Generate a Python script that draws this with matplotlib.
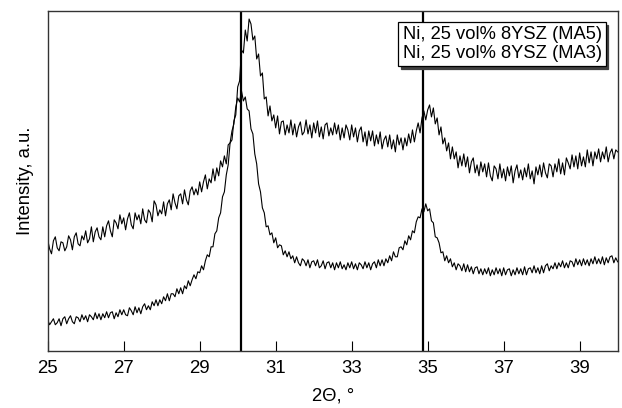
import numpy as np
import matplotlib.pyplot as plt
from matplotlib.lines import Line2D

# 2-theta grid, 0.05 deg steps from 25 to 40
two_theta = np.arange(500, 801) / 20

# Ni, 25 vol% 8YSZ (MA5) - upper pattern
ma5 = [
    111, 102, 97, 110, 114, 103, 100, 109, 108, 100,
    104, 115, 111, 101, 114, 118, 107, 105, 115, 111,
    120, 108, 112, 124, 109, 119, 123, 114, 111, 124,
    114, 125, 130, 120, 114, 131, 128, 122, 136, 127,
    133, 121, 132, 138, 126, 122, 138, 131, 136, 127,
    142, 131, 128, 141, 138, 129, 150, 146, 135, 141,
    137, 149, 135, 147, 151, 141, 157, 148, 142, 155,
    157, 147, 161, 151, 146, 160, 164, 156, 162, 156,
    169, 159, 169, 176, 162, 172, 168, 182, 170, 183,
    175, 190, 184, 195, 187, 206, 208, 211, 230, 236,
    264, 270, 301, 298, 321, 310, 332, 327, 311, 315,
    292, 297, 275, 278, 252, 254, 235, 245, 230, 236,
    223, 235, 217, 229, 230, 216, 226, 218, 231, 216,
    227, 214, 224, 229, 216, 219, 231, 217, 226, 213,
    228, 218, 230, 214, 224, 212, 226, 228, 215, 223,
    216, 228, 217, 226, 211, 223, 213, 226, 221, 211,
    226, 214, 223, 209, 220, 224, 209, 219, 205, 220,
    210, 220, 205, 216, 207, 219, 202, 211, 215, 204,
    216, 202, 211, 199, 216, 206, 213, 201, 213, 205,
    217, 208, 221, 209, 220, 228, 218, 233, 240, 231,
    241, 246, 234, 243, 227, 233, 216, 224, 207, 213,
    200, 208, 192, 204, 192, 199, 183, 195, 185, 197,
    184, 194, 178, 189, 193, 178, 186, 175, 189, 179,
    187, 174, 188, 175, 170, 185, 182, 172, 187, 173,
    182, 170, 184, 175, 185, 168, 180, 186, 173, 181,
    171, 183, 174, 187, 172, 180, 167, 184, 176, 186,
    174, 188, 178, 173, 187, 185, 174, 187, 179, 192,
    177, 188, 176, 193, 188, 182, 196, 184, 195, 182,
    198, 185, 194, 184, 201, 188, 199, 185, 199, 192,
    202, 189, 199, 192, 204, 189, 198, 202, 192, 201,
    199,
]

# Ni, 25 vol% 8YSZ (MA3) - lower pattern
ma3 = [
    31, 26, 29, 32, 26, 28, 32, 25, 32, 34,
    27, 32, 35, 29, 27, 34, 33, 29, 36, 31,
    35, 29, 36, 34, 31, 38, 32, 37, 31, 37,
    33, 39, 33, 38, 39, 32, 38, 34, 41, 36,
    41, 36, 35, 43, 40, 36, 44, 38, 43, 37,
    44, 47, 41, 45, 41, 49, 45, 51, 45, 51,
    47, 54, 50, 57, 50, 57, 57, 54, 62, 57,
    63, 57, 65, 62, 70, 65, 71, 76, 72, 79,
    78, 85, 81, 90, 96, 94, 104, 104, 117, 120,
    133, 138, 154, 159, 176, 186, 208, 220, 227, 244,
    253, 249, 260, 250, 254, 242, 240, 222, 217, 197,
    187, 167, 159, 143, 138, 124, 125, 116, 118, 108,
    113, 103, 106, 105, 96, 100, 94, 99, 92, 95,
    88, 94, 88, 85, 92, 90, 85, 91, 83, 89,
    90, 85, 91, 83, 85, 90, 82, 88, 89, 83,
    88, 81, 88, 83, 89, 82, 86, 81, 88, 83,
    89, 82, 87, 81, 88, 86, 82, 89, 83, 88,
    81, 87, 89, 83, 91, 85, 91, 85, 92, 88,
    95, 90, 99, 94, 94, 103, 104, 101, 110, 106,
    115, 111, 120, 118, 129, 134, 133, 142, 139, 147,
    140, 142, 130, 128, 114, 113, 108, 98, 99, 90,
    95, 88, 92, 84, 88, 81, 87, 85, 80, 87,
    79, 86, 79, 84, 77, 83, 84, 77, 82, 76,
    82, 77, 83, 75, 81, 76, 83, 77, 82, 75,
    83, 76, 81, 82, 75, 81, 76, 83, 77, 82,
    76, 84, 76, 82, 83, 78, 85, 78, 83, 77,
    85, 78, 85, 87, 80, 85, 82, 88, 82, 88,
    84, 90, 83, 88, 83, 90, 89, 84, 92, 86,
    91, 85, 92, 86, 91, 85, 92, 87, 94, 87,
    92, 87, 94, 86, 93, 88, 94, 95, 88, 93,
    89,
]

labels = ["Ni, 25 vol% 8YSZ (MA5)", "Ni, 25 vol% 8YSZ (MA3)"]
ref_lines = [30.08, 34.88]
xticks = [25, 27, 29, 31, 33, 35, 37, 39]

plt.rcParams['font.family'] = ['Liberation Sans', 'DejaVu Sans']

fig = plt.figure(figsize=(6.22, 4.08), dpi=100)
ax = fig.add_axes([0.0767, 0.1404, 0.9163, 0.8326])

ax.plot(two_theta, ma5, color='black', lw=0.8)
ax.plot(two_theta, ma3, color='black', lw=0.8)
for xv in ref_lines:
    ax.axvline(xv, color='black', lw=1.6)

ax.set_xlim(25, 40)
ax.set_ylim(0, 340)
ax.set_xticks(xticks)
ax.set_yticks([])
ax.tick_params(axis='x', direction='in', length=7, width=0.8, pad=7)
for t in ax.get_xticklabels():
    t.set_fontfamily(['Liberation Sans Narrow', 'Liberation Sans'])
    t.set_fontsize(13.4)
for s in ax.spines.values():
    s.set_linewidth(1.0)
    s.set_color('#333333')

ax.set_xlabel("2\u0398, \u00b0", fontsize=13.3, labelpad=7)
ax.set_ylabel("Intensity, a.u.", fontsize=13.3, labelpad=10)

dummy = [Line2D([], [], alpha=0) for _ in labels]
leg = ax.legend(dummy, labels, loc='upper right', bbox_to_anchor=(0.979, 0.968),
                borderaxespad=0, handlelength=0, handletextpad=0,
                labelspacing=0.12, borderpad=0.22, fontsize=13.2,
                fancybox=False, framealpha=1, edgecolor='black',
                shadow={'color': '0.25', 'alpha': 1})
leg.get_frame().set_linewidth(0.9)

fig.savefig("out.png", dpi=100)
